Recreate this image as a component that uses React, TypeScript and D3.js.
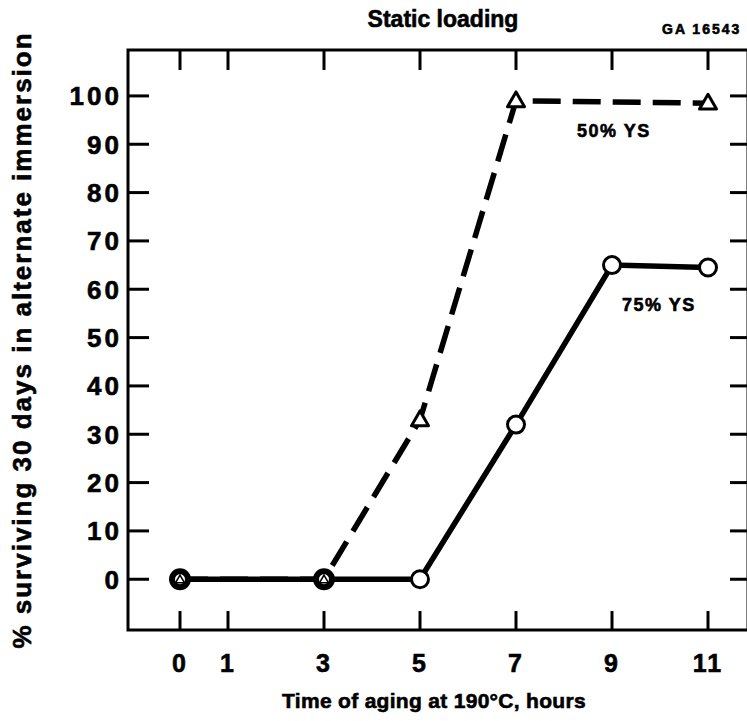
import React from "react";
import * as d3 from "d3";

const hours75 = [0, 3, 5, 7, 9, 11];
const surv75 = [0, 0, 0, 32, 65, 64.5];
const hours50 = [0, 3, 5, 7, 11];
const surv50 = [0, 0, 33, 99, 98.5];
const xTicks = [0, 1, 3, 5, 7, 9, 11];
const yTicks = [0, 10, 20, 30, 40, 50, 60, 70, 80, 90, 100];
const sharedHours = [0, 3];

const W = 747;
const H = 721;
const FONT = "'Liberation Sans', Arial, Helvetica, sans-serif";

export default function App() {
  const x = d3.scaleLinear().domain([-1.0833, 11.8333]).range([128, 748]);
  const y = d3.scaleLinear().domain([-10.5, 109.5]).range([630, 50]);
  const line = d3
    .line<[number, number]>()
    .x((d) => x(d[0]))
    .y((d) => y(d[1]));
  const pts75: [number, number][] = hours75.map((h, i) => [h, surv75[i]]);
  const pts50: [number, number][] = hours50.map((h, i) => [h, surv50[i]]);
  const tri = (cx: number, cy: number, s: number) => {
    const h = (s * Math.sqrt(3)) / 2;
    return `M${cx},${cy - (2 * h) / 3}L${cx + s / 2},${cy + h / 3}L${cx - s / 2},${cy + h / 3}Z`;
  };
  const [x0, x1] = x.range();
  const [yb, yt] = y.range();
  const heavy = { stroke: "#000", strokeWidth: 0.6 };
  return (
    <svg
      width={W}
      height={H}
      style={{ position: "absolute", left: 0, top: 0, background: "#fff" }}
      fontFamily={FONT}
      fontWeight="bold"
    >
      <rect x={0} y={0} width={W} height={H} fill="#fff" />
      {/* frame */}
      <path
        d={`M${x1},${yt}H${x0}V${yb}H${x1}`}
        fill="none"
        stroke="#000"
        strokeWidth={3}
      />
      <line x1={x1} x2={x1} y1={yt} y2={yb} stroke="#000" strokeWidth={3} />
      {/* x ticks */}
      {xTicks.map((t) => (
        <g key={"xt" + t}>
          <line x1={x(t)} x2={x(t)} y1={yt} y2={yt + 20} stroke="#000" strokeWidth={3} />
          <line x1={x(t)} x2={x(t)} y1={yb} y2={yb - 19} stroke="#000" strokeWidth={3} />
          <text
            x={x(t)}
            y={672}
            textAnchor="middle"
            fontSize={25}
            letterSpacing={2}
            {...heavy}
          >
            {t}
          </text>
        </g>
      ))}
      {/* y ticks */}
      {yTicks.map((t) => (
        <g key={"yt" + t}>
          <line x1={x0} x2={x0 + 21} y1={y(t)} y2={y(t)} stroke="#000" strokeWidth={3} />
          <line x1={x1 - 18} x2={x1} y1={y(t)} y2={y(t)} stroke="#000" strokeWidth={3} />
          <text
            x={122}
            y={y(t)}
            dy="0.36em"
            textAnchor="end"
            fontSize={26}
            letterSpacing={3}
            {...heavy}
          >
            {t}
          </text>
        </g>
      ))}
      {/* series lines */}
      <path d={line(pts50) || ""} fill="none" stroke="#000" strokeWidth={5.5} strokeDasharray="28 12" />
      <path d={line(pts75) || ""} fill="none" stroke="#000" strokeWidth={5.5} />
      {/* markers 75% */}
      {pts75
        .filter((p) => !sharedHours.includes(p[0]))
        .map((p, i) => (
          <circle key={"c" + i} cx={x(p[0])} cy={y(p[1])} r={8.5} fill="#fff" stroke="#000" strokeWidth={3} />
        ))}
      {/* markers 50% */}
      {pts50
        .filter((p) => !sharedHours.includes(p[0]))
        .map((p, i) => (
          <path key={"t" + i} d={tri(x(p[0]), y(p[1]) + 1, 17)} fill="#fff" stroke="#000" strokeWidth={3} strokeLinejoin="round" />
        ))}
      {/* shared markers */}
      {sharedHours.map((h) => (
        <g key={"s" + h}>
          <circle cx={x(h)} cy={y(0)} r={8} fill="#fff" stroke="#000" strokeWidth={6} />
          <path d={tri(x(h), y(0) + 1, 9)} fill="#fff" stroke="#000" strokeWidth={1.5} />
        </g>
      ))}
      {/* series labels */}
      <text x={577} y={137} fontSize={18} letterSpacing={1.5} {...heavy}>50% YS</text>
      <text x={622} y={311} fontSize={18} letterSpacing={1.5} {...heavy}>75% YS</text>
      {/* title */}
      <text x={443} y={27} textAnchor="middle" fontSize={23} {...heavy}>Static loading</text>
      <text x={662} y={34} fontSize={14} letterSpacing={2} {...heavy}>GA 16543</text>
      {/* axis titles */}
      <text x={434} y={708} textAnchor="middle" fontSize={21} letterSpacing={0.3} {...heavy}>
        Time of aging at 190°C, hours
      </text>
      <text
        transform={`translate(31,340) rotate(-90)`}
        textAnchor="middle"
        fontSize={26}
        letterSpacing={2}
        {...heavy}
      >
        % surviving 30 days in alternate immersion
      </text>
    </svg>
  );
}
